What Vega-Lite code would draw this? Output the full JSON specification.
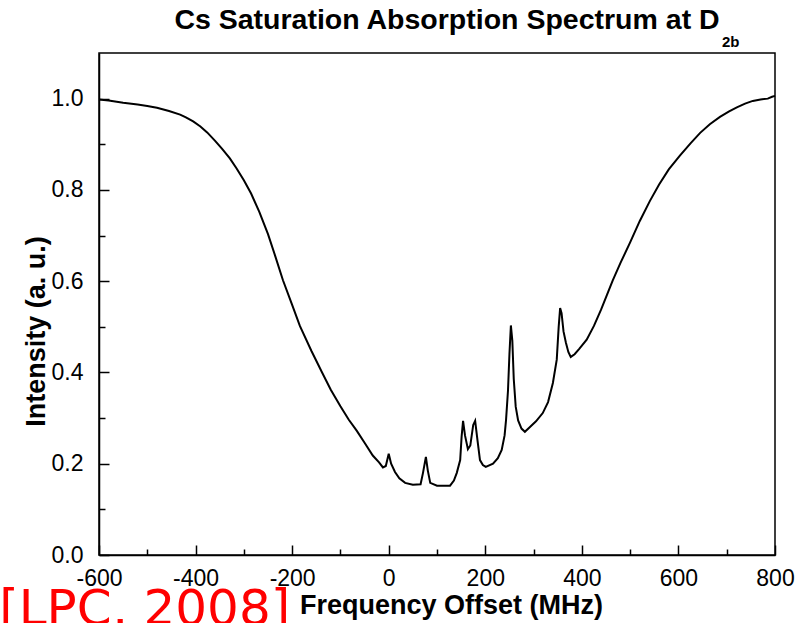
{
  "$schema": "https://vega.github.io/schema/vega-lite/v6.json",
  "width": 676,
  "height": 502,
  "autosize": {"type": "none"},
  "padding": {"left": 99, "top": 53, "right": 37, "bottom": 68},
  "background": "white",
  "config": {
    "view": {"stroke": "black", "strokeWidth": 1.5},
    "font": "Liberation Sans"
  },
  "title": {
    "text": "Cs Saturation Absorption Spectrum at D",
    "font": "Liberation Sans",
    "fontSize": 28.5,
    "fontWeight": "bold",
    "color": "black",
    "anchor": "middle",
    "frame": "group",
    "dx": 10,
    "baseline": "bottom",
    "offset": -29
  },
  "datasets": {
    "spectrum": [
      {"f": -600, "I": 0.998}, {"f": -580, "I": 0.996}, {"f": -550, "I": 0.991},
      {"f": -520, "I": 0.987}, {"f": -500, "I": 0.984}, {"f": -480, "I": 0.980},
      {"f": -455, "I": 0.973}, {"f": -432, "I": 0.965}, {"f": -420, "I": 0.959},
      {"f": -405, "I": 0.950}, {"f": -390, "I": 0.939}, {"f": -376, "I": 0.926},
      {"f": -360, "I": 0.908}, {"f": -345, "I": 0.890}, {"f": -329, "I": 0.869},
      {"f": -315, "I": 0.847}, {"f": -300, "I": 0.821}, {"f": -285, "I": 0.792},
      {"f": -268, "I": 0.752}, {"f": -250, "I": 0.703}, {"f": -235, "I": 0.655},
      {"f": -219, "I": 0.602}, {"f": -200, "I": 0.548}, {"f": -184, "I": 0.502},
      {"f": -160, "I": 0.447}, {"f": -138, "I": 0.400}, {"f": -120, "I": 0.362},
      {"f": -100, "I": 0.326}, {"f": -83, "I": 0.297}, {"f": -66, "I": 0.272},
      {"f": -50, "I": 0.246}, {"f": -33, "I": 0.218}, {"f": -20, "I": 0.203},
      {"f": -12, "I": 0.192}, {"f": -6, "I": 0.195}, {"f": 0, "I": 0.222},
      {"f": 5, "I": 0.200}, {"f": 13, "I": 0.182}, {"f": 22, "I": 0.168},
      {"f": 34, "I": 0.158}, {"f": 50, "I": 0.154}, {"f": 66, "I": 0.155},
      {"f": 71, "I": 0.180}, {"f": 77, "I": 0.215}, {"f": 81, "I": 0.185},
      {"f": 86, "I": 0.158}, {"f": 100, "I": 0.152}, {"f": 127, "I": 0.152},
      {"f": 135, "I": 0.163}, {"f": 141, "I": 0.180}, {"f": 148, "I": 0.208},
      {"f": 151, "I": 0.260}, {"f": 154, "I": 0.294}, {"f": 158, "I": 0.262},
      {"f": 164, "I": 0.232}, {"f": 169, "I": 0.240}, {"f": 175, "I": 0.285},
      {"f": 179, "I": 0.294}, {"f": 184, "I": 0.250}, {"f": 189, "I": 0.208},
      {"f": 195, "I": 0.197}, {"f": 201, "I": 0.193}, {"f": 216, "I": 0.200},
      {"f": 226, "I": 0.212}, {"f": 234, "I": 0.230}, {"f": 240, "I": 0.262},
      {"f": 243, "I": 0.296}, {"f": 247, "I": 0.360}, {"f": 250, "I": 0.440},
      {"f": 253, "I": 0.503}, {"f": 256, "I": 0.470}, {"f": 259, "I": 0.385},
      {"f": 263, "I": 0.325}, {"f": 268, "I": 0.295}, {"f": 275, "I": 0.277},
      {"f": 282, "I": 0.270}, {"f": 292, "I": 0.280}, {"f": 305, "I": 0.293},
      {"f": 319, "I": 0.311}, {"f": 330, "I": 0.335}, {"f": 340, "I": 0.377},
      {"f": 348, "I": 0.428}, {"f": 352, "I": 0.500}, {"f": 355, "I": 0.541},
      {"f": 358, "I": 0.530}, {"f": 362, "I": 0.490}, {"f": 367, "I": 0.465},
      {"f": 372, "I": 0.445}, {"f": 377, "I": 0.434}, {"f": 385, "I": 0.440},
      {"f": 395, "I": 0.452}, {"f": 410, "I": 0.472}, {"f": 425, "I": 0.502},
      {"f": 440, "I": 0.538}, {"f": 452, "I": 0.570}, {"f": 464, "I": 0.602},
      {"f": 480, "I": 0.640}, {"f": 500, "I": 0.685}, {"f": 520, "I": 0.732},
      {"f": 541, "I": 0.776}, {"f": 560, "I": 0.812}, {"f": 580, "I": 0.845},
      {"f": 603, "I": 0.875}, {"f": 625, "I": 0.902}, {"f": 645, "I": 0.925},
      {"f": 665, "I": 0.944}, {"f": 686, "I": 0.960}, {"f": 705, "I": 0.972},
      {"f": 721, "I": 0.981}, {"f": 738, "I": 0.989}, {"f": 754, "I": 0.995},
      {"f": 770, "I": 0.998}, {"f": 785, "I": 1.000}, {"f": 794, "I": 1.004},
      {"f": 800, "I": 1.006}
    ],
    "notes": [
      {"f": 690, "I": 1.114, "t": "2b"}
    ],
    "cite": [
      {"f": -204, "I": -0.153, "t": "[LPC, 2008]"}
    ]
  },
  "layer": [
    {
      "data": {"name": "spectrum"},
      "mark": {"type": "line", "color": "black", "strokeWidth": 2, "interpolate": "linear"},
      "encoding": {
        "x": {
          "field": "f", "type": "quantitative",
          "scale": {"domain": [-600, 800], "nice": false, "zero": false},
          "axis": {
            "title": "Frequency Offset (MHz)",
            "titleFont": "Liberation Sans", "titleFontSize": 27, "titleFontWeight": "bold",
            "titleColor": "black", "titleX": 352, "titleY": 58, "titleBaseline": "alphabetic",
            "values": [-600, -500, -400, -300, -200, -100, 0, 100, 200, 300, 400, 500, 600, 700, 800],
            "labelExpr": "datum.value % 200 === 0 ? toString(datum.value) : ''",
            "labelFont": "Liberation Sans", "labelFontSize": 23, "labelColor": "black",
            "labelPadding": 22, "labelFlush": false, "labelOverlap": false,
            "tickSize": {"condition": {"test": "datum.value % 200 === 0", "value": -10}, "value": -6},
            "tickColor": "black", "tickWidth": 1.5,
            "domainColor": "black", "domainWidth": 1.5, "grid": false
          }
        },
        "y": {
          "field": "I", "type": "quantitative",
          "scale": {"domain": [0, 1.1], "nice": false, "zero": false},
          "axis": {
            "title": "Intensity (a. u.)",
            "titleFont": "Liberation Sans", "titleFontSize": 27, "titleFontWeight": "bold",
            "titleColor": "black", "titleY": 278, "titleX": -55, "titleBaseline": "alphabetic",
            "values": [0, 0.1, 0.2, 0.3, 0.4, 0.5, 0.6, 0.7, 0.8, 0.9, 1.0],
            "labelExpr": "round(datum.value * 10) % 2 === 0 ? format(datum.value, '.1f') : ''",
            "labelFont": "Liberation Sans", "labelFontSize": 23, "labelColor": "black",
            "labelPadding": 26, "labelFlush": false, "labelOverlap": false,
            "tickSize": {"condition": {"test": "round(datum.value * 10) % 2 === 0", "value": -10}, "value": -6},
            "tickColor": "black", "tickWidth": 1.5,
            "domainColor": "black", "domainWidth": 1.5, "grid": false
          }
        }
      }
    },
    {
      "data": {"name": "notes"},
      "mark": {"type": "text", "font": "Liberation Sans", "fontSize": 15, "fontWeight": "bold", "color": "black", "align": "left", "baseline": "alphabetic"},
      "encoding": {
        "x": {"field": "f", "type": "quantitative"},
        "y": {"field": "I", "type": "quantitative"},
        "text": {"field": "t"}
      }
    },
    {
      "data": {"name": "cite"},
      "mark": {"type": "text", "font": "DejaVu Sans", "fontSize": 50, "color": "#FF0000", "align": "right", "baseline": "alphabetic"},
      "encoding": {
        "x": {"field": "f", "type": "quantitative"},
        "y": {"field": "I", "type": "quantitative"},
        "text": {"field": "t"}
      }
    }
  ]
}
